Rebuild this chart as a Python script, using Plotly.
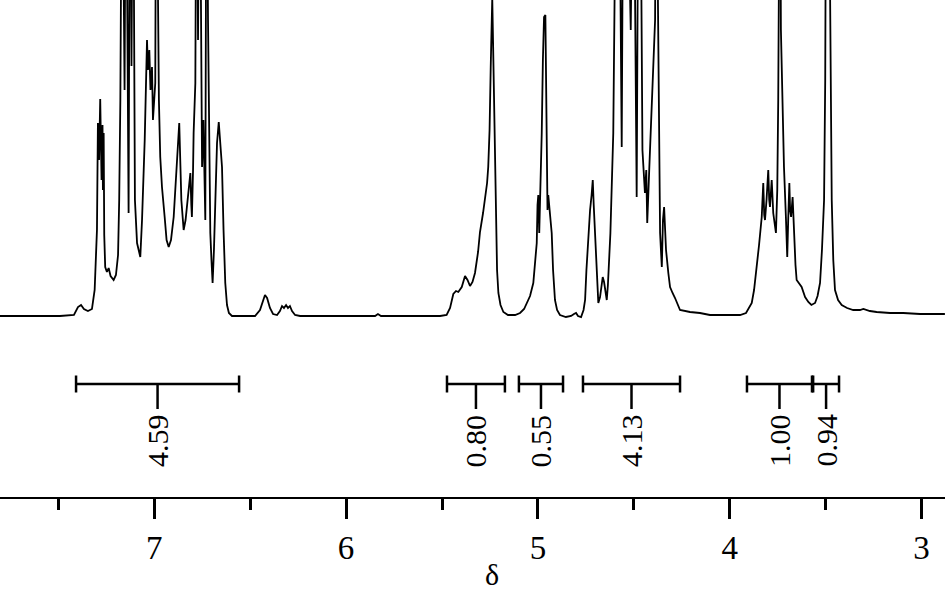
import plotly.graph_objects as go

# Traced 1H NMR spectrum (chemical shift in ppm, intensity in arbitrary units)
shift = [
    7.805, 7.492, 7.419, 7.398, 7.382, 7.367, 7.346, 7.325, 7.311, 7.299,
    7.294, 7.288, 7.282, 7.275, 7.270, 7.268, 7.264, 7.261, 7.256, 7.247,
    7.238, 7.228, 7.212, 7.200, 7.189, 7.183, 7.177, 7.168, 7.155, 7.148,
    7.134, 7.127, 7.119, 7.111, 7.101, 7.090, 7.073, 7.064, 7.050, 7.043,
    7.038, 7.033, 7.026, 7.020, 7.012, 7.007, 7.003, 6.995, 6.990, 6.976,
    6.969, 6.960, 6.946, 6.936, 6.925, 6.913, 6.899, 6.882, 6.870, 6.859,
    6.847, 6.837, 6.830, 6.822, 6.812, 6.807, 6.804, 6.798, 6.795, 6.786,
    6.780, 6.772, 6.764, 6.751, 6.744, 6.734, 6.728, 6.720, 6.712, 6.708,
    6.702, 6.696, 6.689, 6.682, 6.673, 6.664, 6.658, 6.647, 6.639, 6.630,
    6.621, 6.611, 6.595, 6.475, 6.449, 6.433, 6.423, 6.412, 6.397, 6.381,
    6.360, 6.345, 6.334, 6.324, 6.313, 6.303, 6.293, 6.282, 6.266, 6.240,
    5.849, 5.834, 5.818, 5.510, 5.476, 5.458, 5.441, 5.427, 5.415, 5.397,
    5.380, 5.367, 5.354, 5.341, 5.328, 5.312, 5.302, 5.286, 5.276, 5.265,
    5.259, 5.252, 5.246, 5.242, 5.238, 5.234, 5.229, 5.224, 5.218, 5.213,
    5.206, 5.195, 5.180, 5.156, 5.119, 5.093, 5.072, 5.058, 5.041, 5.024,
    5.015, 5.006, 5.002, 4.998, 4.993, 4.986, 4.980, 4.974, 4.968, 4.961,
    4.958, 4.954, 4.950, 4.946, 4.937, 4.928, 4.921, 4.911, 4.900, 4.885,
    4.854, 4.827, 4.812, 4.801, 4.791, 4.775, 4.762, 4.754, 4.747, 4.737,
    4.728, 4.720, 4.714, 4.709, 4.702, 4.695, 4.685, 4.676, 4.668, 4.662,
    4.655, 4.650, 4.641, 4.635, 4.629, 4.622, 4.607, 4.598, 4.590, 4.575,
    4.563, 4.554, 4.541, 4.528, 4.516, 4.502, 4.485, 4.475, 4.465, 4.455,
    4.442, 4.435, 4.430, 4.419, 4.407, 4.398, 4.389, 4.384, 4.371, 4.363,
    4.354, 4.348, 4.342, 4.337, 4.332, 4.320, 4.311, 4.298, 4.285, 4.259,
    4.207, 4.155, 4.103, 4.051, 3.946, 3.915, 3.885, 3.873, 3.859, 3.847,
    3.833, 3.825, 3.820, 3.816, 3.808, 3.799, 3.794, 3.790, 3.781, 3.777,
    3.773, 3.759, 3.752, 3.747, 3.742, 3.738, 3.733, 3.729, 3.722, 3.717,
    3.707, 3.700, 3.695, 3.689, 3.685, 3.680, 3.672, 3.665, 3.657, 3.651,
    3.639, 3.625, 3.607, 3.590, 3.574, 3.555, 3.542, 3.529, 3.519, 3.508,
    3.502, 3.498, 3.488, 3.477, 3.472, 3.468, 3.460, 3.451, 3.435, 3.416,
    3.388, 3.356, 3.321, 3.303, 3.269, 3.234, 3.164, 3.095, 3.008, 2.878,
]
intensity = [
    0, 0, 1, 9, 11, 7, 5, 7, 26, 86,
    193, 156, 217, 136, 191, 126, 183, 81, 49, 44,
    48, 40, 36, 41, 61, 116, 216, 520, 226, 520,
    103, 520, 250, 520, 116, 73, 59, 96, 176, 256,
    276, 246, 266, 226, 249, 196, 206, 233, 520, 216,
    159, 129, 99, 76, 69, 76, 99, 149, 193, 116,
    86, 96, 109, 131, 143, 111, 99, 146, 183, 233,
    520, 276, 520, 149, 196, 96, 520, 296, 136, 83,
    56, 33, 66, 116, 173, 194, 181, 149, 86, 33,
    11, 3, 0, 0, 6, 16, 21, 18, 8, 2,
    1, 5, 10, 8, 11, 8, 10, 5, 1, 0,
    0, 2, 0, 0, 1, 8, 22, 25, 24, 29,
    40, 36, 30, 34, 43, 64, 84, 103, 116, 133,
    149, 186, 249, 296, 318, 276, 216, 146, 83, 46,
    23, 11, 4, 1, 1, 3, 7, 13, 20, 33,
    51, 73, 111, 121, 83, 126, 183, 256, 299, 301,
    236, 216, 106, 121, 103, 83, 46, 16, 6, 1,
    -1, 0, 2, 3, 0, -1, 6, 16, 46, 83,
    106, 121, 136, 111, 83, 41, 13, 19, 31, 39,
    34, 26, 16, 31, 50, 83, 183, 283, 520, 450,
    169, 520, 450, 400, 286, 520, 119, 520, 450, 166,
    123, 146, 93, 149, 216, 246, 296, 520, 216, 83,
    49, 96, 109, 83, 66, 43, 29, 23, 18, 6,
    4, 3, 1, 1, 1, 3, 13, 26, 49, 71,
    99, 133, 101, 96, 116, 146, 116, 109, 136, 111,
    103, 83, 126, 216, 286, 520, 286, 249, 196, 149,
    99, 59, 96, 133, 106, 99, 119, 83, 51, 36,
    33, 29, 19, 14, 11, 13, 20, 33, 66, 116,
    236, 330, 1000, 330, 216, 116, 56, 26, 16, 11,
    8, 6, 6, 7, 5, 4, 3, 3, 2, 2,
]

# Integration regions (ppm) and integral values
int_start = [7.408, 5.474, 5.099, 4.765, 3.910, 3.565]
int_end = [6.558, 5.172, 4.869, 4.259, 3.571, 3.430]
int_labels = ["4.59", "0.80", "0.55", "4.13", "1.00", "0.94"]

major_ticks = [7, 6, 5, 4, 3]
tick_text = ["7", "6", "5", "4", "3"]

X_RANGE = [7.8045, 2.8775]
Y_RANGE = [-181, 316]
BAR_Y = -68
CAP = 8.5
STEM = -93

FONT = "Liberation Serif"

fig = go.Figure()
fig.add_trace(go.Scatter(
    x=shift, y=intensity, mode="lines",
    line=dict(color="black", width=1.8),
    hoverinfo="skip", showlegend=False,
))

shapes = []
annotations = []
for s, e, lab in zip(int_start, int_end, int_labels):
    mid = (s + e) / 2
    lw = dict(color="black", width=2.5)
    shapes.append(dict(type="line", xref="x", yref="y", x0=s, x1=e, y0=BAR_Y, y1=BAR_Y, line=lw))
    shapes.append(dict(type="line", xref="x", yref="y", x0=s, x1=s, y0=BAR_Y - CAP, y1=BAR_Y + CAP, line=lw))
    shapes.append(dict(type="line", xref="x", yref="y", x0=e, x1=e, y0=BAR_Y - CAP, y1=BAR_Y + CAP, line=lw))
    shapes.append(dict(type="line", xref="x", yref="y", x0=mid, x1=mid, y0=BAR_Y, y1=STEM, line=lw))
    annotations.append(dict(
        x=mid, y=STEM - 3, xref="x", yref="y", text=lab, textangle=-90,
        showarrow=False, xanchor="center", yanchor="top",
        font=dict(family=FONT, size=30, color="black"),
    ))

annotations.append(dict(
    x=492 / 945, y=-0.155, xref="paper", yref="paper", text="δ",
    showarrow=False, xanchor="center", yanchor="middle",
    font=dict(family=FONT, size=30, color="black"),
))

fig.update_layout(
    width=945, height=591,
    margin=dict(l=0, r=0, t=0, b=94, pad=0),
    paper_bgcolor="white", plot_bgcolor="white",
    shapes=shapes, annotations=annotations,
    showlegend=False,
    xaxis=dict(
        range=X_RANGE, showgrid=False, zeroline=False,
        showline=True, linecolor="black", linewidth=2,
        ticks="outside", ticklen=20, tickwidth=2.5, tickcolor="black",
        tickvals=major_ticks, ticktext=tick_text,
        tickfont=dict(family=FONT, size=33, color="black"),
        minor=dict(ticks="outside", ticklen=11, tickwidth=2.5, tickcolor="black", dtick=0.5, showgrid=False),
    ),
    yaxis=dict(range=Y_RANGE, visible=False, showgrid=False, zeroline=False),
)

fig.write_html(
    "out.html",
    config={"displayModeBar": False},
    post_script="document.body.style.margin='0';document.body.style.padding='0';",
)
